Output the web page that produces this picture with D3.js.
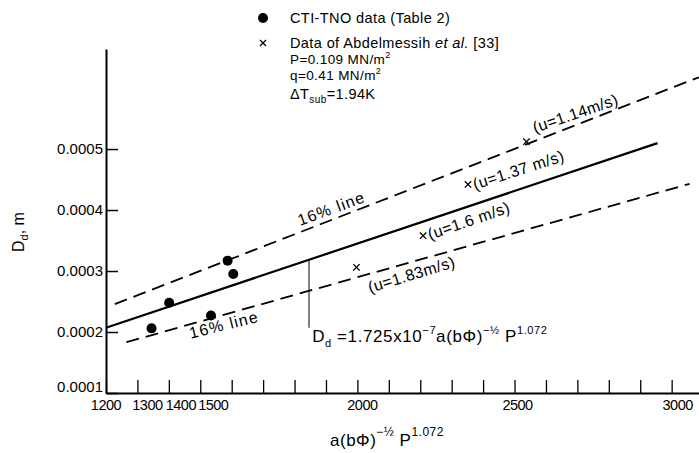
<!DOCTYPE html>
<html>
<head>
<meta charset="utf-8">
<script src="https://cdn.jsdelivr.net/npm/d3@7"></script>
<style>
  body { margin: 0; background: #fff; }
  svg { font-family: "Liberation Sans", Arial, sans-serif; }
</style>
</head>
<body>
<div class="canvas"></div>
<script>
// Data
const ctiData = [
  [1345, 0.000206],
  [1401, 0.000248],
  [1534, 0.000227],
  [1587, 0.000317],
  [1605, 0.000295],
];
const abdData = [
  [2538, 0.000512],
  [2352, 0.000442],
  [2209, 0.000358],
  [1997, 0.000306],
];
const abdLabels = ["(u=1.14m/s)", "(u=1.37 m/s)", "(u=1.6 m/s)", "(u=1.83m/s)"];

// D_d = 1.725e-7 X, with +-16% lines
const fitCoef = 1.725e-7;
const band = 0.16;
const fitRange = [1200, 2955];
const upperRange = [1228, 3087];
const lowerRange = [1265, 3057];

const xTicks = d3.range(1200, 3001, 100);
const xLabels = [1200, 1300, 1400, 1500, 2000, 2500, 3000];
const yTicks = [0.0001, 0.0002, 0.0003, 0.0004, 0.0005];

const width = 699, height = 453;

const svg = d3.select(".canvas").append("svg")
  .attr("width", width)
  .attr("height", height);

const x = d3.scaleLinear().domain([1200, 3087]).range([106, 699]);
const y = d3.scaleLinear().domain([0.0001, 0.000664]).range([393, 49]);

// X axis (ticks point inward)
const xAxis = d3.axisBottom(x)
  .tickValues(xTicks)
  .tickSizeInner(-13)
  .tickSizeOuter(0)
  .tickFormat("");

const xg = svg.append("g")
  .attr("transform", `translate(0, ${y(0.0001)})`)
  .call(xAxis);
xg.select(".domain").attr("stroke-width", 2);
xg.selectAll(".tick line").attr("stroke-width", 1.3);

// x tick labels, slightly shifted like the original lettering
const labelShift = { 1200: 0, 1300: 10, 1400: 12, 1500: 13, 2000: 5, 2500: 3, 3000: 6 };
svg.append("g").selectAll("text")
  .data(xLabels)
  .join("text")
  .attr("x", (d) => x(d) + labelShift[d])
  .attr("y", y(0.0001) + 17)
  .attr("text-anchor", "middle")
  .attr("font-size", 14.5)
  .attr("letter-spacing", -0.5)
  .text((d) => d);

// Y axis
const yAxis = d3.axisLeft(y)
  .tickValues(yTicks)
  .tickSizeInner(-12)
  .tickSizeOuter(0)
  .tickPadding(3)
  .tickFormat(d3.format(".4f"));

const yg = svg.append("g")
  .attr("transform", `translate(${x(1200)}, 0)`)
  .call(yAxis);
yg.select(".domain").attr("stroke-width", 2);
yg.selectAll(".tick line").attr("stroke-width", 1.5);
yg.selectAll(".tick text").attr("font-size", 15).attr("fill", "#000");
yg.select(".tick text").attr("dy", "-0.1em");

// Fit lines
const line = d3.line().x((d) => x(d[0])).y((d) => y(d[1]));
const fitLine = (range, k) => range.map((v) => [v, fitCoef * k * v]);

svg.append("path")
  .attr("d", line(fitLine(fitRange, 1)))
  .attr("fill", "none")
  .attr("stroke", "#000")
  .attr("stroke-width", 2.2);

svg.selectAll(".band")
  .data([fitLine(upperRange, 1 + band), fitLine(lowerRange, 1 - band)])
  .join("path")
  .attr("class", "band")
  .attr("d", line)
  .attr("fill", "none")
  .attr("stroke", "#000")
  .attr("stroke-width", 1.8)
  .attr("stroke-dasharray", "13,7");

// Pointer from the fit line to its equation
const ptrX = 1846;
svg.append("line")
  .attr("x1", x(ptrX)).attr("x2", x(ptrX))
  .attr("y1", y(fitCoef * ptrX)).attr("y2", y(0.000207))
  .attr("stroke", "#000")
  .attr("stroke-width", 1);

// CTI-TNO dots
svg.selectAll(".dot")
  .data(ctiData)
  .join("circle")
  .attr("class", "dot")
  .attr("cx", (d) => x(d[0]))
  .attr("cy", (d) => y(d[1]))
  .attr("r", 5)
  .attr("fill", "#000");

// Abdelmessih crosses
const cross = (g, s) => g.append("path")
  .attr("d", `M${-s},${-s}L${s},${s}M${-s},${s}L${s},${-s}`)
  .attr("stroke", "#000")
  .attr("stroke-width", 1.3);

svg.selectAll(".cross")
  .data(abdData)
  .join("g")
  .attr("class", "cross")
  .attr("transform", (d) => `translate(${x(d[0])}, ${y(d[1])})`)
  .each(function () { cross(d3.select(this), 3.2); });

// Slanted labels along the lines
const notes = [
  { text: "16% line", at: [1817, 0.000374], angle: -20, ls: 1.2 },
  { text: abdLabels[0], at: [2565, 0.000526], angle: -19, ls: 0.3 },
  { text: abdLabels[1], at: [2374, 0.000433], angle: -18, ls: 0.4 },
  { text: abdLabels[2], at: [2231, 0.000351], angle: -19, ls: 0.4 },
  { text: abdLabels[3], at: [2040, 0.000264], angle: -17, ls: 0.4 },
  { text: "16% line", at: [1470, 0.000189], angle: -14, ls: 1.2 },
];

svg.selectAll(".note")
  .data(notes)
  .join("text")
  .attr("class", "note")
  .attr("transform", (d) => `translate(${x(d.at[0])}, ${y(d.at[1])}) rotate(${d.angle})`)
  .attr("font-size", 16)
  .attr("letter-spacing", (d) => d.ls)
  .text((d) => d.text);

// Equation
const eq = svg.append("text")
  .attr("x", x(1856))
  .attr("y", y(0.000184))
  .attr("font-size", 17)
  .attr("letter-spacing", 0.6);
eq.append("tspan").text("D");
eq.append("tspan").attr("font-size", 11).attr("dy", 5).text("d");
eq.append("tspan").attr("dy", -5).text(" =1.725x10");
eq.append("tspan").attr("font-size", 11).attr("dy", -8).text("−7");
eq.append("tspan").attr("dy", 8).text("a(bΦ)");
eq.append("tspan").attr("font-size", 11).attr("dy", -8).text("−½");
eq.append("tspan").attr("dy", 8).text(" P");
eq.append("tspan").attr("font-size", 11).attr("dy", -8).text("1.072");

// Legend
const legend = svg.append("g").attr("font-size", 14.5).attr("letter-spacing", 0.4);
legend.append("circle").attr("cx", 263).attr("cy", 18).attr("r", 5).attr("fill", "#000");
legend.append("text").attr("x", 290).attr("y", 23).text("CTI-TNO data (Table 2)");

legend.append("g").attr("transform", "translate(263, 43)")
  .call((g) => cross(g, 3));
const abdText = legend.append("text").attr("x", 290).attr("y", 48);
abdText.append("tspan").text("Data of Abdelmessih ");
abdText.append("tspan").attr("font-style", "italic").text("et al.");
abdText.append("tspan").text(" [33]");

const pText = legend.append("g").attr("font-size", 13.5);
const pLine = pText.append("text").attr("x", 290).attr("y", 64);
pLine.append("tspan").text("P=0.109 MN/m");
pLine.append("tspan").attr("font-size", 9).attr("dy", -6).text("2");

const qLine = pText.append("text").attr("x", 290).attr("y", 79.5);
qLine.append("tspan").text("q=0.41 MN/m");
qLine.append("tspan").attr("font-size", 9).attr("dy", -6).text("2");

const tText = legend.append("text").attr("x", 290).attr("y", 99);
tText.append("tspan").text("ΔT");
tText.append("tspan").attr("font-size", 10).attr("dy", 4).text("sub");
tText.append("tspan").attr("dy", -4).text("=1.94K");

// Axis titles
const yTitle = svg.append("text")
  .attr("transform", "translate(24, 232) rotate(-90)")
  .attr("text-anchor", "middle")
  .attr("font-size", 16);
yTitle.append("tspan").text("D");
yTitle.append("tspan").attr("font-size", 11).attr("dy", 4).text("d");
yTitle.append("tspan").attr("dy", -4).text(", m");

const xTitle = svg.append("text")
  .attr("x", 387)
  .attr("y", 446)
  .attr("text-anchor", "middle")
  .attr("font-size", 17)
  .attr("letter-spacing", 0.5);
xTitle.append("tspan").text("a(bΦ)");
xTitle.append("tspan").attr("font-size", 12).attr("dy", -10).text("−½");
xTitle.append("tspan").attr("dy", 10).text(" P");
xTitle.append("tspan").attr("font-size", 12).attr("dy", -10).text("1.072");
</script>
</body>
</html>
